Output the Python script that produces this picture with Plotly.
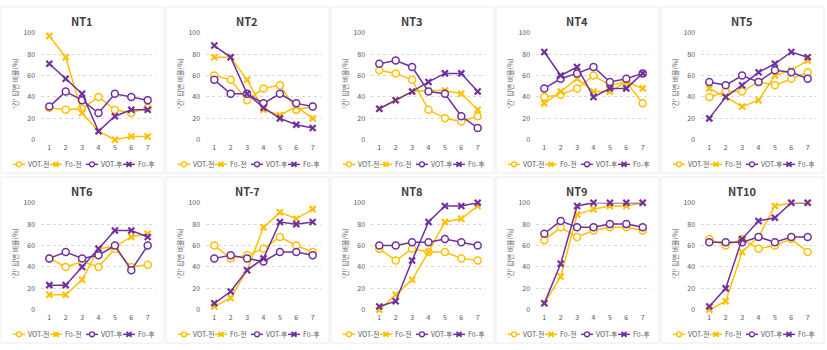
import plotly.graph_objects as go

# ---------------- data ----------------
PANEL_TITLES = ["NT1", "NT2", "NT3", "NT4", "NT5", "NT6", "NT-7", "NT8", "NT9", "NT10"]
X_CATS = [1, 2, 3, 4, 5, 6, 7]
Y_TICKS = [0, 20, 40, 60, 80, 100]
SERIES_NAMES = ["VOT-전", "F0-전", "VOT-후", "F0-후"]
Y_TITLE = "'긴' 답변 비율(%)"

VOT_PRE = [
    [30, 28, 29, 40, 28, 25, 30],
    [60, 56, 37, 48, 51, 28, 31],
    [65, 62, 56, 28, 20, 17, 22],
    [40, 42, 48, 60, 51, 54, 34],
    [40, 45, 45, 54, 51, 57, 63],
    [48, 40, 45, 40, 57, 40, 42],
    [60, 48, 51, 57, 68, 60, 54],
    [57, 46, 57, 54, 54, 48, 46],
    [65, 77, 68, 74, 77, 77, 74],
    [66, 60, 66, 57, 60, 66, 54],
]
F0_PRE = [
    [97, 77, 25, 8, 0, 3, 3],
    [77, 77, 56, 28, 23, 31, 20],
    [29, 37, 45, 46, 46, 43, 28],
    [34, 45, 57, 45, 45, 54, 48],
    [48, 40, 31, 37, 60, 65, 74],
    [14, 14, 28, 57, 59, 68, 71],
    [3, 11, 37, 77, 91, 85, 94],
    [0, 14, 28, 54, 82, 85, 97],
    [6, 31, 89, 94, 97, 97, 100],
    [0, 8, 54, 68, 97, 100, 100],
]
VOT_POST = [
    [31, 45, 37, 25, 43, 40, 37],
    [56, 43, 43, 34, 43, 34, 31],
    [71, 74, 68, 45, 43, 22, 11],
    [48, 57, 62, 68, 54, 57, 62],
    [54, 51, 60, 54, 65, 63, 57],
    [48, 54, 48, 51, 60, 37, 60],
    [48, 51, 48, 45, 54, 54, 51],
    [60, 60, 63, 63, 66, 63, 60],
    [71, 83, 77, 77, 80, 80, 77],
    [63, 63, 63, 68, 63, 68, 68],
]
F0_POST = [
    [71, 57, 43, 8, 22, 28, 28],
    [88, 77, 43, 30, 20, 14, 11],
    [29, 37, 45, 54, 62, 62, 45],
    [82, 60, 68, 40, 48, 48, 62],
    [20, 40, 51, 63, 71, 82, 77],
    [23, 23, 40, 57, 74, 74, 68],
    [6, 17, 37, 48, 82, 80, 82],
    [3, 8, 46, 82, 97, 97, 100],
    [6, 43, 97, 100, 100, 100, 100],
    [3, 20, 66, 83, 86, 100, 100],
]

# ---------------- style ----------------
W, H = 827, 350
YELLOW = "#FFC000"
PURPLE = "#7030A0"
FONT = "Noto Sans CJK KR"
TXT = "#595959"
SERIES_STYLE = [
    (YELLOW, "circle"),
    (YELLOW, "x"),
    (PURPLE, "circle"),
    (PURPLE, "x"),
]
SERIES_DATA = [VOT_PRE, F0_PRE, VOT_POST, F0_POST]

PANEL_W = 165
ROW_TOP = [0, 175]
PLOT_X0, PLOT_X1 = 41.1, 155.9
PLOT_Y0, PLOT_Y1 = 27.5, 137.7  # top (100) / bottom (0), relative to panel


def px(x):
    return x / W


def py(y):
    return 1 - y / H


fig = go.Figure()
layout = dict(
    width=W, height=H,
    margin=dict(l=0, r=0, t=0, b=0),
    paper_bgcolor="white", plot_bgcolor="white",
    showlegend=False,
    font=dict(family=FONT, size=7, color=TXT),
)
shapes = []
annotations = []

for i, title in enumerate(PANEL_TITLES):
    r, c = divmod(i, 5)
    L = PANEL_W * c
    T = ROW_TOP[r]
    ax = "" if i == 0 else str(i + 1)
    xref, yref = "x" + ax, "y" + ax

    for s, name in enumerate(SERIES_NAMES):
        color, sym = SERIES_STYLE[s]
        if sym == "circle":
            marker = dict(symbol="circle", size=7, color="white",
                          line=dict(color=color, width=1.5))
        else:
            marker = dict(symbol="x-thin", size=6, color=color,
                          line=dict(color=color, width=2.2))
        fig.add_trace(go.Scatter(
            x=X_CATS, y=SERIES_DATA[s][i], name=name, mode="lines+markers",
            line=dict(color=color, width=1.5), marker=marker,
            xaxis=xref, yaxis=yref, cliponaxis=False, showlegend=False,
        ))

    layout["xaxis" + ax] = dict(
        domain=[px(L + PLOT_X0), px(L + PLOT_X1)],
        anchor=yref, range=[0.5, 7.5], tickvals=X_CATS,
        showgrid=False, zeroline=False, showline=False,
        ticks="", tickfont=dict(size=7, color=TXT, family=FONT),
        ticklabelstandoff=2, fixedrange=True,
    )
    layout["yaxis" + ax] = dict(
        domain=[py(T + PLOT_Y1), py(T + PLOT_Y0)],
        anchor=xref, range=[0, 100], tickvals=Y_TICKS,
        showgrid=True, gridcolor="#D9D9D9", griddash="dot", gridwidth=1,
        zeroline=False, showline=False, ticks="",
        tickfont=dict(size=7, color=TXT, family=FONT),
        ticklabelstandoff=5, fixedrange=True,
    )

    # panel border
    shapes.append(dict(type="rect", xref="paper", yref="paper",
                       x0=px(L + 1), x1=px(L + PANEL_W - 1),
                       y0=py(T + 172), y1=py(T + 1),
                       line=dict(color="#EDEDED", width=1)))
    # title
    annotations.append(dict(text="<b>%s</b>" % title, xref="paper", yref="paper",
                            x=px(L + 82), y=py(T + 15), showarrow=False,
                            font=dict(size=11, color="#404040", family=FONT),
                            xanchor="center", yanchor="middle"))
    # y axis title
    annotations.append(dict(text=Y_TITLE, xref="paper", yref="paper",
                            x=px(L + 15), y=py(T + 80), showarrow=False,
                            textangle=-90, font=dict(size=7, color=TXT, family=FONT),
                            xanchor="center", yanchor="middle"))
    # legend
    leg_x = [13, 50, 86, 123]
    ly = T + 163
    for s, name in enumerate(SERIES_NAMES):
        color, sym = SERIES_STYLE[s]
        x0 = L + leg_x[s]
        x1 = x0 + 12
        xm = (x0 + x1) / 2
        shapes.append(dict(type="line", xref="paper", yref="paper",
                           x0=px(x0), x1=px(x1), y0=py(ly), y1=py(ly),
                           line=dict(color=color, width=1.5)))
        rr = 2.5
        if sym == "circle":
            shapes.append(dict(type="circle", xref="paper", yref="paper",
                               x0=px(xm - rr), x1=px(xm + rr),
                               y0=py(ly + rr), y1=py(ly - rr),
                               fillcolor="white", line=dict(color=color, width=1.3)))
        else:
            path = "M %f,%f L %f,%f M %f,%f L %f,%f" % (
                px(xm - rr), py(ly - rr), px(xm + rr), py(ly + rr),
                px(xm - rr), py(ly + rr), px(xm + rr), py(ly - rr))
            shapes.append(dict(type="path", xref="paper", yref="paper", path=path,
                               line=dict(color=color, width=2)))
        annotations.append(dict(text=name, xref="paper", yref="paper",
                                x=px(x1 + 1), y=py(ly), showarrow=False,
                                xanchor="left", yanchor="middle",
                                font=dict(size=7, color=TXT, family=FONT)))

layout["shapes"] = shapes
layout["annotations"] = annotations
fig.update_layout(**layout)
fig.write_html("out.html")
